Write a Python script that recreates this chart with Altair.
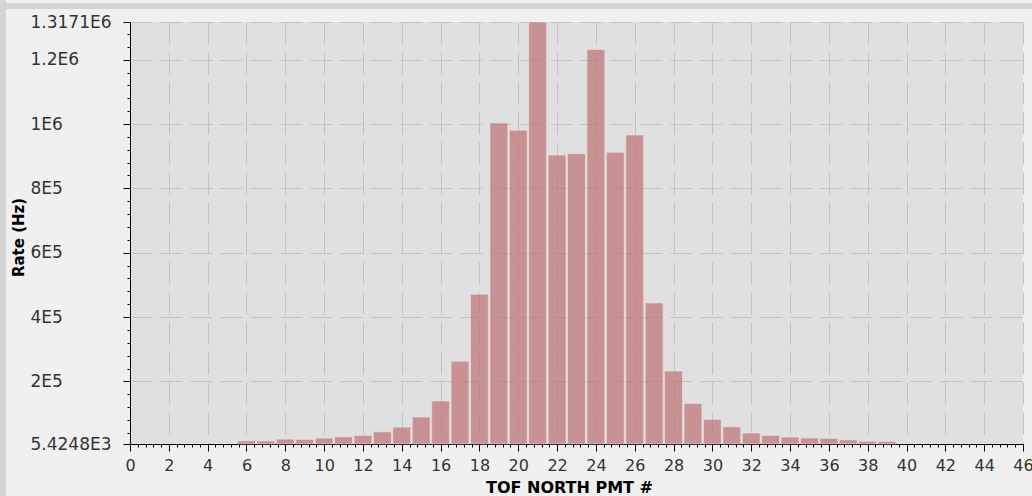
import altair as alt
import pandas as pd

# ---- data ----
pmt = list(range(0, 46))
rate = [
    5424.8, 5424.8, 5424.8, 5424.8, 5424.8, 5424.8,
    15400, 15000, 20500, 19500, 23800, 28000, 32000, 43400, 58000, 89000,
    139000, 263000, 471000, 1003000, 981000, 1317100, 903600, 907700,
    1232000, 912000, 966000, 443800, 232000, 131600, 81800, 59000,
    39500, 32000, 27000, 24000, 23000, 18500, 14000, 13500,
    5424.8, 5424.8, 5424.8, 5424.8, 5424.8, 5424.8,
]
y_min = 5424.8
y_max = 1317100
y_tick_values = [5424.8, 200000, 400000, 600000, 800000, 1000000, 1200000, 1317100]
y_tick_labels = ["5.4248E3", "2E5", "4E5", "6E5", "8E5", "1E6", "1.2E6", "1.3171E6"]
x_tick_values = list(range(0, 47, 2))
x_minor_values = [round(i * 0.4, 1) for i in range(0, 116)]
y_minor_values = [i * 40000 for i in range(1, 33)]

df = pd.DataFrame({"pmt": pmt, "rate": rate})

label_expr = " : ".join(
    f"abs(datum.value - {v}) < 1 ? '{l}'" for v, l in zip(y_tick_values, y_tick_labels)
) + " : ''"

FONT = "DejaVu Sans"
xscale = alt.Scale(domain=[0, 46], nice=False, zero=False)
yscale = alt.Scale(domain=[y_min, y_max], nice=False, zero=False)

x_major = alt.Axis(
    orient="bottom", values=x_tick_values, format="d", grid=True,
    gridColor="#c2c2c2", gridDash=[22, 8], gridWidth=1,
    domainColor="black", domainWidth=1, tickColor="black", tickSize=7,
    labelFont=FONT, labelFontSize=16, labelColor="#333333", labelPadding=6,
    labelFlush=False, labelOverlap=False,
    title="TOF NORTH PMT #", titleFont=FONT, titleFontSize=16, titleFontWeight="bold",
    titleColor="black", titleX=439, titleY=43, titleBaseline="middle", titleAlign="center",
)
y_major = alt.Axis(
    orient="left", values=y_tick_values, labelExpr=label_expr, grid=True,
    gridColor="#c2c2c2", gridDash=[22, 8], gridWidth=1,
    domainColor="black", domainWidth=1, tickColor="black", tickSize=7,
    labelFont=FONT, labelFontSize=17, labelColor="#333333", labelAlign="left",
    labelBaseline="middle", labelPadding=93, labelOverlap=False, labelFlush=False,
    title="Rate (Hz)", titleFont=FONT, titleFontSize=15, titleFontWeight="bold",
    titleColor="black", titleAngle=270, titleX=-112, titleY=215,
    titleAlign="center", titleBaseline="middle",
)
x_minor = alt.Axis(
    orient="bottom", values=x_minor_values, grid=False, labels=False, domain=False,
    tickColor="black", tickSize=3, title=None,
)
y_minor = alt.Axis(
    orient="left", values=y_minor_values, grid=False, labels=False, domain=False,
    tickColor="black", tickSize=3, title=None,
)

base = alt.Chart(df)

minor = base.mark_point(opacity=0).encode(
    x=alt.X("pmt:Q", scale=xscale, axis=x_minor),
    y=alt.Y("rate:Q", scale=yscale, axis=y_minor),
)

bars = base.transform_filter(
    f"datum.rate > {y_min}"
).transform_calculate(
    x_lo="datum.pmt - 0.46", x_hi="datum.pmt + 0.46", base=str(y_min)
).mark_bar(
    color="#bf7578", opacity=0.72, stroke="#f4e4e4", strokeOpacity=0.6, strokeWidth=1
).encode(
    x=alt.X("x_lo:Q", scale=xscale, axis=x_major),
    x2="x_hi:Q",
    y=alt.Y("rate:Q", scale=yscale, axis=y_major),
    y2="base:Q",
)

frame_data = alt.Data(values=[{"k": 1}])
top_band = alt.Chart(frame_data).mark_rule(color="#d4d4d4", strokeWidth=6).encode(
    x=alt.value(-130), x2=alt.value(902), y=alt.value(-16)
)
left_band = alt.Chart(frame_data).mark_rule(color="#d4d4d4", strokeWidth=6).encode(
    x=alt.value(-127), y=alt.value(-22), y2=alt.value(474)
)

chart = alt.layer(minor, bars, top_band, left_band).resolve_axis(
    x="independent", y="independent"
).properties(
    width=893, height=422,
    padding={"left": 130, "top": 22, "right": 9, "bottom": 52},
    autosize=alt.AutoSizeParams(type="none"),
    background="#f0f0f0",
).configure_view(fill="#e0e0e0", stroke=None)

chart.save("out.html", embed_options={"renderer": "svg", "actions": False})
